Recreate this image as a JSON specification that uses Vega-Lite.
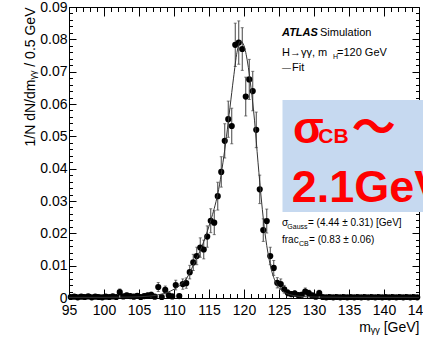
{
  "$schema": "https://vega.github.io/schema/vega-lite/v6.json",
  "width": 350,
  "height": 291,
  "autosize": {"type": "none"},
  "padding": {"left": 69, "top": 7, "right": 4, "bottom": 39},
  "background": "white",
  "config": {
    "view": {"stroke": "black", "strokeWidth": 1},
    "font": "Liberation Sans",
    "axis": {"labelFont": "Liberation Sans", "labelFontSize": 14, "labelColor": "black", "titleFont": "Liberation Sans", "titleFontSize": 14, "titleFontWeight": "normal", "titleColor": "black", "tickColor": "black", "grid": false, "domain": false}
  },
  "datasets": {
    "pts": [
      {"m": 95.25, "v": 0.0003, "e": 0.0004}, {"m": 95.75, "v": 0.0004, "e": 0.0005}, {"m": 96.25, "v": 0.0002, "e": 0.0003}, {"m": 96.75, "v": 0.0004, "e": 0.0005},
      {"m": 97.25, "v": 0.0003, "e": 0.0004}, {"m": 97.75, "v": 0.0005, "e": 0.0005}, {"m": 98.25, "v": 0.0002, "e": 0.0003}, {"m": 98.75, "v": 0.0004, "e": 0.0005},
      {"m": 99.25, "v": 0.0003, "e": 0.0004}, {"m": 99.75, "v": 0.0002, "e": 0.0003}, {"m": 100.25, "v": 0.0004, "e": 0.0005}, {"m": 100.75, "v": 0.0003, "e": 0.0004},
      {"m": 101.25, "v": 0.0005, "e": 0.0005}, {"m": 101.75, "v": 0.0003, "e": 0.0004}, {"m": 102.25, "v": 0.0018, "e": 0.001}, {"m": 102.75, "v": 0.0005, "e": 0.0005},
      {"m": 103.25, "v": 0.0008, "e": 0.0007}, {"m": 103.75, "v": 0.0006, "e": 0.0006}, {"m": 104.25, "v": 0.0004, "e": 0.0005}, {"m": 104.75, "v": 0.0007, "e": 0.0006},
      {"m": 105.25, "v": 0.0003, "e": 0.0004}, {"m": 105.75, "v": 0.0006, "e": 0.0006}, {"m": 106.25, "v": 0.0008, "e": 0.0007}, {"m": 106.75, "v": 0.001, "e": 0.0008},
      {"m": 107.25, "v": 0.0004, "e": 0.0005}, {"m": 107.75, "v": 0.0034, "e": 0.0014}, {"m": 108.25, "v": 0.0003, "e": 0.0004}, {"m": 108.75, "v": 0.0025, "e": 0.0012},
      {"m": 109.25, "v": 0.0008, "e": 0.0007}, {"m": 109.75, "v": 0.0005, "e": 0.0005}, {"m": 110.25, "v": 0.004, "e": 0.0015}, {"m": 110.75, "v": 0.0006, "e": 0.0006},
      {"m": 111.25, "v": 0.0043, "e": 0.0016}, {"m": 111.75, "v": 0.0046, "e": 0.0016}, {"m": 112.25, "v": 0.008, "e": 0.0021}, {"m": 112.75, "v": 0.011, "e": 0.0025},
      {"m": 113.25, "v": 0.013, "e": 0.0027}, {"m": 113.75, "v": 0.0156, "e": 0.003}, {"m": 114.25, "v": 0.015, "e": 0.0029}, {"m": 114.75, "v": 0.019, "e": 0.0033},
      {"m": 115.25, "v": 0.0239, "e": 0.0037}, {"m": 115.75, "v": 0.0233, "e": 0.0037}, {"m": 116.25, "v": 0.0315, "e": 0.0043}, {"m": 116.75, "v": 0.039, "e": 0.0047},
      {"m": 117.25, "v": 0.0486, "e": 0.0053}, {"m": 117.75, "v": 0.0553, "e": 0.0056}, {"m": 118.25, "v": 0.0532, "e": 0.0055}, {"m": 118.75, "v": 0.0783, "e": 0.0067},
      {"m": 119.25, "v": 0.079, "e": 0.0067}, {"m": 119.75, "v": 0.077, "e": 0.0066}, {"m": 120.25, "v": 0.0623, "e": 0.006}, {"m": 120.75, "v": 0.0676, "e": 0.0062},
      {"m": 121.25, "v": 0.064, "e": 0.0061}, {"m": 121.75, "v": 0.052, "e": 0.0055}, {"m": 122.25, "v": 0.0336, "e": 0.0044}, {"m": 122.75, "v": 0.021, "e": 0.0035},
      {"m": 123.25, "v": 0.0238, "e": 0.0037}, {"m": 123.75, "v": 0.013, "e": 0.0027}, {"m": 124.25, "v": 0.0093, "e": 0.0023}, {"m": 124.75, "v": 0.0047, "e": 0.0016},
      {"m": 125.25, "v": 0.0043, "e": 0.0016}, {"m": 125.75, "v": 0.0027, "e": 0.0012}, {"m": 126.25, "v": 0.0016, "e": 0.001}, {"m": 126.75, "v": 0.0012, "e": 0.0008},
      {"m": 127.25, "v": 0.0014, "e": 0.0009}, {"m": 127.75, "v": 0.0009, "e": 0.0007}, {"m": 128.25, "v": 0.001, "e": 0.0008}, {"m": 128.75, "v": 0.002, "e": 0.0011},
      {"m": 129.25, "v": 0.0015, "e": 0.0009}, {"m": 129.75, "v": 0.0008, "e": 0.0007}, {"m": 130.25, "v": 0.0004, "e": 0.0005}, {"m": 130.75, "v": 0.0015, "e": 0.0009},
      {"m": 131.25, "v": 0.0003, "e": 0.0004}, {"m": 131.75, "v": 0.0002, "e": 0.0003}, {"m": 132.25, "v": 0.0003, "e": 0.0004}, {"m": 132.75, "v": 0.0002, "e": 0.0003},
      {"m": 133.25, "v": 0.0003, "e": 0.0004}, {"m": 133.75, "v": 0.0002, "e": 0.0003}, {"m": 134.25, "v": 0.0003, "e": 0.0004}, {"m": 134.75, "v": 0.0002, "e": 0.0003},
      {"m": 135.25, "v": 0.0003, "e": 0.0004}, {"m": 135.75, "v": 0.0002, "e": 0.0003}, {"m": 136.25, "v": 0.0003, "e": 0.0004}, {"m": 136.75, "v": 0.0002, "e": 0.0003},
      {"m": 137.25, "v": 0.0003, "e": 0.0004}, {"m": 137.75, "v": 0.0002, "e": 0.0003}, {"m": 138.25, "v": 0.0003, "e": 0.0004}, {"m": 138.75, "v": 0.0002, "e": 0.0003},
      {"m": 139.25, "v": 0.0003, "e": 0.0004}, {"m": 139.75, "v": 0.0002, "e": 0.0003}, {"m": 140.25, "v": 0.0003, "e": 0.0004}, {"m": 140.75, "v": 0.0002, "e": 0.0003},
      {"m": 141.25, "v": 0.0003, "e": 0.0004}, {"m": 141.75, "v": 0.0002, "e": 0.0003}, {"m": 142.25, "v": 0.0003, "e": 0.0004}, {"m": 142.75, "v": 0.0002, "e": 0.0003},
      {"m": 143.25, "v": 0.0003, "e": 0.0004}, {"m": 143.75, "v": 0.0002, "e": 0.0003}, {"m": 144.25, "v": 0.0003, "e": 0.0004}, {"m": 144.75, "v": 0.0002, "e": 0.0003}
    ],
    "fit": [
      {"m": 95, "f": 0.0002}, {"m": 100, "f": 0.0002}, {"m": 104, "f": 0.0003}, {"m": 106, "f": 0.0005}, {"m": 107, "f": 0.0007}, {"m": 108, "f": 0.0011},
      {"m": 109, "f": 0.0017}, {"m": 110, "f": 0.0027}, {"m": 111, "f": 0.0042}, {"m": 112, "f": 0.0068}, {"m": 112.5, "f": 0.009}, {"m": 113, "f": 0.0112},
      {"m": 113.5, "f": 0.0135}, {"m": 114, "f": 0.016}, {"m": 114.5, "f": 0.019}, {"m": 115, "f": 0.0222}, {"m": 115.5, "f": 0.0258}, {"m": 116, "f": 0.0298},
      {"m": 116.5, "f": 0.035}, {"m": 117, "f": 0.042}, {"m": 117.5, "f": 0.05}, {"m": 118, "f": 0.059}, {"m": 118.5, "f": 0.068}, {"m": 119, "f": 0.076},
      {"m": 119.5, "f": 0.0795}, {"m": 120, "f": 0.078}, {"m": 120.5, "f": 0.073}, {"m": 121, "f": 0.065}, {"m": 121.5, "f": 0.055}, {"m": 122, "f": 0.042},
      {"m": 122.5, "f": 0.03}, {"m": 123, "f": 0.02}, {"m": 123.5, "f": 0.013}, {"m": 124, "f": 0.008}, {"m": 124.5, "f": 0.005}, {"m": 125, "f": 0.0032},
      {"m": 125.5, "f": 0.0022}, {"m": 126, "f": 0.0015}, {"m": 127, "f": 0.0008}, {"m": 128, "f": 0.0005}, {"m": 130, "f": 0.0003}, {"m": 135, "f": 0.0002}, {"m": 145, "f": 0.0002}
    ],
    "box": [{"m1": 125.5, "m2": 147, "v1": 0.0266, "v2": 0.0612}],
    "txt11": [
      {"m": 130.86, "v": 0.081, "t": "Simulation"},
      {"m": 125.43, "v": 0.0749, "t": "H→γγ, m"},
      {"m": 133.29, "v": 0.0749, "t": "=120 GeV"},
      {"m": 126.86, "v": 0.0702, "t": "Fit"}
    ],
    "dash": [{"m": 125.43, "v": 0.0702, "t": "—"}],
    "bold": [{"m": 125.43, "v": 0.081, "t": "ATLAS"}],
    "txt10": [
      {"m": 125.43, "v": 0.02227, "t": "σ"},
      {"m": 129.14, "v": 0.02227, "t": "= (4.44  ± 0.31) [GeV]"},
      {"m": 125.43, "v": 0.017, "t": "frac"},
      {"m": 129.29, "v": 0.017, "t": "= (0.83  ± 0.06)"}
    ],
    "sub": [
      {"m": 132.71, "v": 0.0739, "t": "H"},
      {"m": 126.19, "v": 0.0213, "t": "Gauss"},
      {"m": 127.86, "v": 0.0161, "t": "CB"}
    ],
    "big": [
      {"m": 127.0, "v": 0.0479, "t": "σ"},
      {"m": 126.81, "v": 0.0297, "t": "2.1GeV"}
    ],
    "mid": [{"m": 130.61, "v": 0.0479, "t": "CB"}],
    "tilde": [{"m": 135.39, "v": 0.0479, "t": "～"}]
  },
  "resolve": {"axis": {"x": "independent", "y": "independent"}},
  "layer": [
    {
      "data": {"name": "pts"},
      "mark": {"type": "errorbar", "color": "#444", "thickness": 1, "ticks": {"size": 3, "color": "#444"}},
      "encoding": {
        "x": {"field": "m", "type": "quantitative", "scale": {"domain": [95, 145], "nice": false, "zero": false},
          "axis": {"orient": "bottom", "values": [95, 100, 105, 110, 115, 120, 125, 130, 135, 140, 145], "tickSize": -9, "labelPadding": 14, "labelFlush": false, "labelOverlap": false, "title": "mᵧᵧ [GeV]", "titleAnchor": "end", "titlePadding": 3}},
        "y": {"field": "v", "type": "quantitative", "scale": {"domain": [0, 0.09], "nice": false, "zero": true},
          "axis": {"orient": "left", "values": [0, 0.01, 0.02, 0.03, 0.04, 0.05, 0.06, 0.07, 0.08, 0.09], "format": "~g", "tickSize": -7, "labelPadding": 9, "labelFlush": false, "labelOverlap": false, "title": "1/N dN/dmᵧᵧ / 0.5 GeV", "titleAnchor": "end", "titlePadding": 2}},
        "yError": {"field": "e"}
      }
    },
    {
      "data": {"name": "pts"},
      "mark": {"type": "point", "filled": true, "color": "black", "size": 38, "opacity": 1},
      "encoding": {
        "x": {"field": "m", "type": "quantitative", "axis": {"orient": "bottom", "values": [96,97,98,99,101,102,103,104,106,107,108,109,111,112,113,114,116,117,118,119,121,122,123,124,126,127,128,129,131,132,133,134,136,137,138,139,141,142,143,144], "tickSize": -4.5, "labels": false, "title": null}},
        "y": {"field": "v", "type": "quantitative", "axis": {"orient": "left", "values": [0.002,0.004,0.006,0.008,0.012,0.014,0.016,0.018,0.022,0.024,0.026,0.028,0.032,0.034,0.036,0.038,0.042,0.044,0.046,0.048,0.052,0.054,0.056,0.058,0.062,0.064,0.066,0.068,0.072,0.074,0.076,0.078,0.082,0.084,0.086,0.088], "tickSize": -3.5, "labels": false, "title": null}}
      }
    },
    {
      "data": {"name": "fit"},
      "mark": {"type": "line", "color": "#333", "strokeWidth": 1, "interpolate": "monotone"},
      "encoding": {
        "x": {"field": "m", "type": "quantitative", "axis": {"orient": "top", "values": [95, 100, 105, 110, 115, 120, 125, 130, 135, 140, 145], "tickSize": -9, "labels": false, "title": null}},
        "y": {"field": "f", "type": "quantitative", "axis": {"orient": "right", "values": [0, 0.01, 0.02, 0.03, 0.04, 0.05, 0.06, 0.07, 0.08, 0.09], "tickSize": -7, "labels": false, "title": null}}
      }
    },
    {
      "data": {"name": "box"},
      "mark": {"type": "rect", "color": "#c6d9f0", "clip": false},
      "encoding": {
        "x": {"field": "m1", "type": "quantitative", "axis": {"orient": "top", "values": [96,97,98,99,101,102,103,104,106,107,108,109,111,112,113,114,116,117,118,119,121,122,123,124,126,127,128,129,131,132,133,134,136,137,138,139,141,142,143,144], "tickSize": -4.5, "labels": false, "title": null}},
        "x2": {"field": "m2"},
        "y": {"field": "v1", "type": "quantitative", "axis": {"orient": "right", "values": [0.002,0.004,0.006,0.008,0.012,0.014,0.016,0.018,0.022,0.024,0.026,0.028,0.032,0.034,0.036,0.038,0.042,0.044,0.046,0.048,0.052,0.054,0.056,0.058,0.062,0.064,0.066,0.068,0.072,0.074,0.076,0.078,0.082,0.084,0.086,0.088], "tickSize": -3.5, "labels": false, "title": null}},
        "y2": {"field": "v2"}
      }
    },
    {
      "data": {"name": "txt11"},
      "mark": {"type": "text", "align": "left", "baseline": "alphabetic", "fontSize": 11, "font": "Liberation Sans", "color": "black"},
      "encoding": {"x": {"field": "m", "type": "quantitative", "axis": null}, "y": {"field": "v", "type": "quantitative", "axis": null}, "text": {"field": "t"}}
    },
    {
      "data": {"name": "dash"},
      "mark": {"type": "text", "align": "left", "baseline": "alphabetic", "fontSize": 9, "font": "Liberation Sans", "color": "black"},
      "encoding": {"x": {"field": "m", "type": "quantitative", "axis": null}, "y": {"field": "v", "type": "quantitative", "axis": null}, "text": {"field": "t"}}
    },
    {
      "data": {"name": "bold"},
      "mark": {"type": "text", "align": "left", "baseline": "alphabetic", "fontSize": 11, "font": "Liberation Sans", "fontWeight": "bold", "fontStyle": "italic", "color": "black"},
      "encoding": {"x": {"field": "m", "type": "quantitative", "axis": null}, "y": {"field": "v", "type": "quantitative", "axis": null}, "text": {"field": "t"}}
    },
    {
      "data": {"name": "txt10"},
      "mark": {"type": "text", "align": "left", "baseline": "alphabetic", "fontSize": 10, "font": "Liberation Sans", "color": "black"},
      "encoding": {"x": {"field": "m", "type": "quantitative", "axis": null}, "y": {"field": "v", "type": "quantitative", "axis": null}, "text": {"field": "t"}}
    },
    {
      "data": {"name": "sub"},
      "mark": {"type": "text", "align": "left", "baseline": "alphabetic", "fontSize": 7, "font": "Liberation Sans", "color": "black"},
      "encoding": {"x": {"field": "m", "type": "quantitative", "axis": null}, "y": {"field": "v", "type": "quantitative", "axis": null}, "text": {"field": "t"}}
    },
    {
      "data": {"name": "big"},
      "mark": {"type": "text", "align": "left", "baseline": "alphabetic", "fontSize": 45, "font": "Liberation Sans", "fontWeight": "bold", "color": "#ff0000", "clip": false},
      "encoding": {"x": {"field": "m", "type": "quantitative", "axis": null}, "y": {"field": "v", "type": "quantitative", "axis": null}, "text": {"field": "t"}}
    },
    {
      "data": {"name": "mid"},
      "mark": {"type": "text", "align": "left", "baseline": "alphabetic", "fontSize": 21, "font": "Liberation Sans", "fontWeight": "bold", "color": "#ff0000"},
      "encoding": {"x": {"field": "m", "type": "quantitative", "axis": null}, "y": {"field": "v", "type": "quantitative", "axis": null}, "text": {"field": "t"}}
    },
    {
      "data": {"name": "tilde"},
      "mark": {"type": "text", "align": "left", "baseline": "alphabetic", "fontSize": 44, "font": "Noto Sans CJK JP", "fontWeight": "bold", "color": "#ff0000"},
      "encoding": {"x": {"field": "m", "type": "quantitative", "axis": null}, "y": {"field": "v", "type": "quantitative", "axis": null}, "text": {"field": "t"}}
    }
  ]
}
